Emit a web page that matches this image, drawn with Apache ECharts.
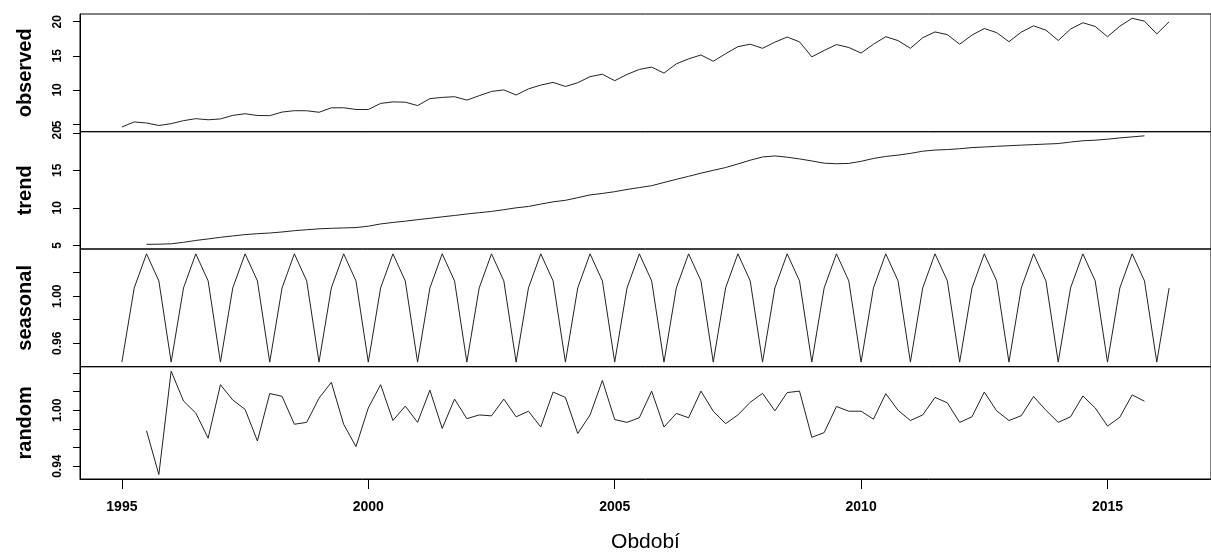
<!DOCTYPE html>
<html>
	<head>
		<meta charset="utf-8">
		<style>
			html, body { margin: 0; padding: 0; background: #fff; }
			#main { width: 1211px; height: 554px; }
		</style>
	</head>
	<body>
		<div id="main"></div>
	</body>
	<script src="https://cdn.jsdelivr.net/npm/echarts@6/dist/echarts.min.js"></script>
	<script type="text/javascript">
		// ctvrtletni rada 1995 Q1 - 2016 Q2, multiplikativni dekompozice
		var startYear = 1995;
		var freq = 4;

		var observed = [
			4.56, 5.3, 5.15, 4.78, 5.05, 5.49, 5.78, 5.62, 5.74, 6.26,
			6.5, 6.25, 6.22, 6.75, 6.95, 6.94, 6.72, 7.37, 7.38, 7.13,
			7.12, 8.02, 8.24, 8.2, 7.7, 8.72, 8.9, 9.0, 8.5, 9.15,
			9.77, 10.0, 9.25, 10.15, 10.7, 11.1, 10.5, 11.05, 11.95, 12.3,
			11.35, 12.27, 13.0, 13.35, 12.46, 13.82, 14.55, 15.12, 14.2, 15.3,
			16.34, 16.7, 16.1, 17.0, 17.75, 17.05, 14.85, 15.78, 16.65, 16.22,
			15.4, 16.7, 17.8, 17.23, 16.1, 17.65, 18.5, 18.1, 16.7, 18.04,
			19.0, 18.4, 17.07, 18.47, 19.4, 18.76, 17.25, 18.92, 19.85, 19.3,
			17.8, 19.34, 20.5, 20.08, 18.2, 20.0
		];

		var trend = [
			null, null,
			5.13, 5.15, 5.2, 5.4, 5.65, 5.85, 6.07, 6.25, 6.43, 6.55,
			6.64, 6.78, 6.95, 7.08, 7.2, 7.27, 7.32, 7.37, 7.55, 7.85,
			8.05, 8.22, 8.42, 8.6, 8.8, 8.98, 9.18, 9.35, 9.52, 9.75,
			10.0, 10.18, 10.5, 10.8, 11.0, 11.35, 11.72, 11.92, 12.15, 12.45,
			12.7, 12.95, 13.38, 13.8, 14.2, 14.62, 15.0, 15.37, 15.85, 16.35,
			16.78, 16.92, 16.75, 16.52, 16.25, 15.95, 15.88, 15.92, 16.2, 16.58,
			16.85, 17.03, 17.26, 17.55, 17.7, 17.77, 17.88, 18.03, 18.11, 18.2,
			18.28, 18.36, 18.43, 18.5, 18.57, 18.77, 18.94, 19.02, 19.15, 19.32,
			19.46, 19.6,
			null, null
		];

		var seasonal = [
			0.944, 1.007, 1.036, 1.013, 0.944, 1.007, 1.036, 1.013,
			0.944, 1.007, 1.036, 1.013, 0.944, 1.007, 1.036, 1.013,
			0.944, 1.007, 1.036, 1.013, 0.944, 1.007, 1.036, 1.013,
			0.944, 1.007, 1.036, 1.013, 0.944, 1.007, 1.036, 1.013,
			0.944, 1.007, 1.036, 1.013, 0.944, 1.007, 1.036, 1.013,
			0.944, 1.007, 1.036, 1.013, 0.944, 1.007, 1.036, 1.013,
			0.944, 1.007, 1.036, 1.013, 0.944, 1.007, 1.036, 1.013,
			0.944, 1.007, 1.036, 1.013, 0.944, 1.007, 1.036, 1.013,
			0.944, 1.007, 1.036, 1.013, 0.944, 1.007, 1.036, 1.013,
			0.944, 1.007, 1.036, 1.013, 0.944, 1.007, 1.036, 1.013,
			0.944, 1.007, 1.036, 1.013, 0.944, 1.007
		];

		var random = [
			null, null,
			0.978, 0.931, 1.042, 1.010, 0.997, 0.970, 1.0275, 1.011, 1.001, 0.967,
			1.018, 1.015, 0.985, 0.987, 1.013, 1.030, 0.985, 0.961, 1.0025, 1.0275,
			0.989, 1.0045, 0.987, 1.0216, 0.9805, 1.012, 0.991, 0.995, 0.994, 1.012,
			0.993, 0.999, 0.982, 1.0196, 1.0138, 0.975, 0.995, 1.032, 0.990, 0.987,
			0.992, 1.0206, 0.982, 0.9966, 0.992, 1.0206, 0.999, 0.9856, 0.995, 1.0086,
			1.0182, 0.9994, 1.019, 1.0206, 0.971, 0.976, 1.0041, 0.999, 0.999, 0.9904,
			1.0179, 1.000, 0.989, 0.995, 1.0138, 1.008, 0.987, 0.993, 1.0196, 0.9994,
			0.989, 0.9942, 1.0148, 1.000, 0.987, 0.993, 1.0154, 1.0025, 0.983, 0.9925,
			1.0165, 1.0097,
			null, null
		];

		var panelNames = ['observed', 'trend', 'seasonal', 'random'];
		var yTicks = [
			[5, 10, 15, 20],
			[5, 10, 15, 20],
			[0.96, 0.98, 1.00, 1.02],
			[0.94, 0.96, 0.98, 1.00, 1.02, 1.04]
		];
		var yLabels = [
			[5, 10, 15, 20],
			[5, 10, 15, 20],
			[0.96, 1.00],
			[0.94, 1.00]
		];
		var yRange = [[3.87, 21.13], [4.51, 20.15], [0.9401, 1.0401], [0.9262, 1.0468]];
		var xTicks = [1995, 2000, 2005, 2010, 2015];

		var font = 'Liberation Sans, Arial, sans-serif';
		var tops = [14, 131.7, 249, 366.7];
		var heights = [117.7, 117.3, 117.7, 116.6];

		function toPairs(arr) {
			var out = [];
			for (var i = 0; i < arr.length; i++) {
				out.push([startYear + i / freq, arr[i]]);
			}
			return out;
		}
		var seriesData = [observed, trend, seasonal, random];

		var grids = [], xAxes = [], yAxes = [], series = [];
		for (var k = 0; k < 4; k++) {
			var last = (k === 3);
			grids.push({
				left: 80, top: tops[k], width: 1143, height: heights[k],
				show: true, borderColor: '#000', borderWidth: 1
			});
			xAxes.push({
				type: 'value', gridIndex: k, min: 1994.15, max: 2017.1,
				splitLine: { show: false },
				axisLine: { show: last, lineStyle: { color: '#000' } },
				axisTick: { show: last, length: 10, customValues: xTicks, lineStyle: { color: '#000' } },
				axisLabel: {
					show: last, customValues: xTicks, margin: 21,
					color: '#000', fontFamily: font, fontWeight: 'bold', fontSize: 14,
					formatter: function (v) { return String(Math.round(v)); }
				},
				name: last ? 'Období' : '',
				nameLocation: 'middle', nameGap: 53,
				nameTextStyle: { color: '#000', fontFamily: font, fontSize: 21 }
			});
			(function (k) {
				yAxes.push({
					type: 'value', gridIndex: k, min: yRange[k][0], max: yRange[k][1],
					splitLine: { show: false },
					axisLine: { show: true, lineStyle: { color: '#000' } },
					axisTick: { show: true, length: 7, customValues: yTicks[k], lineStyle: { color: '#000' } },
					axisLabel: {
						customValues: yLabels[k], rotate: 90, margin: 16,
						color: '#000', fontFamily: font, fontWeight: 'bold', fontSize: 12,
						formatter: function (v) { return k < 2 ? String(Math.round(v)) : v.toFixed(2); }
					},
					name: panelNames[k], nameLocation: 'middle', nameRotate: 90, nameGap: 45,
					nameTextStyle: { color: '#000', fontFamily: font, fontWeight: 'bold', fontSize: 20 }
				});
			})(k);
			series.push({
				type: 'line', xAxisIndex: k, yAxisIndex: k,
				data: toPairs(seriesData[k]),
				showSymbol: false, symbol: 'none', connectNulls: false,
				lineStyle: { color: '#222', width: 1 },
				animation: false
			});
		}

		var chart = echarts.init(document.getElementById('main'));
		chart.setOption({
			animation: false,
			grid: grids,
			xAxis: xAxes,
			yAxis: yAxes,
			series: series
		});
	</script>
</html>
